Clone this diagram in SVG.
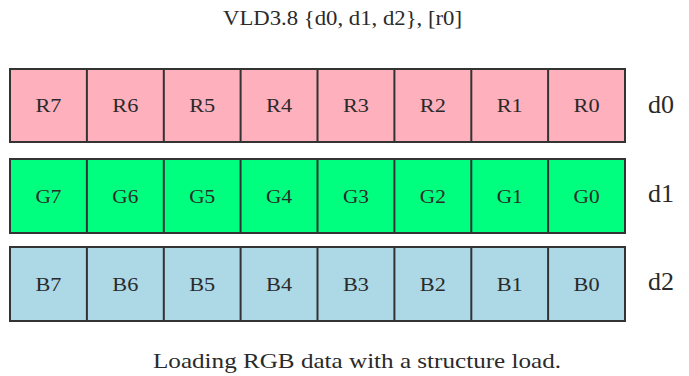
<svg xmlns="http://www.w3.org/2000/svg" width="689" height="376" viewBox="0 0 689 376">
<style>
text{font-family:"Liberation Serif","Times New Roman",serif;fill:#2a2a2a}
.cell{stroke:#333;stroke-width:2}
.r{fill:#ffb0bd}.g{fill:#00ff7f}.b{fill:#add8e6}
.lbl{font-size:19px;text-anchor:middle}
.reg{font-size:26px}
.cap{font-size:21px}
</style>
<text class="cap" x="223" y="25" textLength="239" lengthAdjust="spacingAndGlyphs">VLD3.8 {d0, d1, d2}, [r0]</text>
<g id="d0">
<rect class="cell r" x="10" y="69" width="615" height="73"/>
<path class="cell" d="M86.9 69V142M163.8 69V142M240.6 69V142M317.5 69V142M394.4 69V142M471.3 69V142M548.1 69V142"/>
<g class="lbl">
<text x="48.4" y="112" textLength="26" lengthAdjust="spacingAndGlyphs">R7</text><text x="125.3" y="112" textLength="26" lengthAdjust="spacingAndGlyphs">R6</text><text x="202.2" y="112" textLength="26" lengthAdjust="spacingAndGlyphs">R5</text><text x="279.1" y="112" textLength="26" lengthAdjust="spacingAndGlyphs">R4</text><text x="356" y="112" textLength="26" lengthAdjust="spacingAndGlyphs">R3</text><text x="432.8" y="112" textLength="26" lengthAdjust="spacingAndGlyphs">R2</text><text x="509.7" y="112" textLength="26" lengthAdjust="spacingAndGlyphs">R1</text><text x="586.6" y="112" textLength="26" lengthAdjust="spacingAndGlyphs">R0</text>
</g>
<text class="reg" x="648" y="113">d0</text>
</g>
<g id="d1">
<rect class="cell g" x="10" y="159" width="615" height="74"/>
<path class="cell" d="M86.9 159V233M163.8 159V233M240.6 159V233M317.5 159V233M394.4 159V233M471.3 159V233M548.1 159V233"/>
<g class="lbl">
<text x="48.4" y="203" textLength="26" lengthAdjust="spacingAndGlyphs">G7</text><text x="125.3" y="203" textLength="26" lengthAdjust="spacingAndGlyphs">G6</text><text x="202.2" y="203" textLength="26" lengthAdjust="spacingAndGlyphs">G5</text><text x="279.1" y="203" textLength="26" lengthAdjust="spacingAndGlyphs">G4</text><text x="356" y="203" textLength="26" lengthAdjust="spacingAndGlyphs">G3</text><text x="432.8" y="203" textLength="26" lengthAdjust="spacingAndGlyphs">G2</text><text x="509.7" y="203" textLength="26" lengthAdjust="spacingAndGlyphs">G1</text><text x="586.6" y="203" textLength="26" lengthAdjust="spacingAndGlyphs">G0</text>
</g>
<text class="reg" x="648" y="202">d1</text>
</g>
<g id="d2">
<rect class="cell b" x="10" y="247" width="615" height="74"/>
<path class="cell" d="M86.9 247V321M163.8 247V321M240.6 247V321M317.5 247V321M394.4 247V321M471.3 247V321M548.1 247V321"/>
<g class="lbl">
<text x="48.4" y="291" textLength="26" lengthAdjust="spacingAndGlyphs">B7</text><text x="125.3" y="291" textLength="26" lengthAdjust="spacingAndGlyphs">B6</text><text x="202.2" y="291" textLength="26" lengthAdjust="spacingAndGlyphs">B5</text><text x="279.1" y="291" textLength="26" lengthAdjust="spacingAndGlyphs">B4</text><text x="356" y="291" textLength="26" lengthAdjust="spacingAndGlyphs">B3</text><text x="432.8" y="291" textLength="26" lengthAdjust="spacingAndGlyphs">B2</text><text x="509.7" y="291" textLength="26" lengthAdjust="spacingAndGlyphs">B1</text><text x="586.6" y="291" textLength="26" lengthAdjust="spacingAndGlyphs">B0</text>
</g>
<text class="reg" x="648" y="290">d2</text>
</g>
<g id="connectors"/>
<text class="cap" x="153" y="368" textLength="408" lengthAdjust="spacingAndGlyphs">Loading RGB data with a structure load.</text>
</svg>
